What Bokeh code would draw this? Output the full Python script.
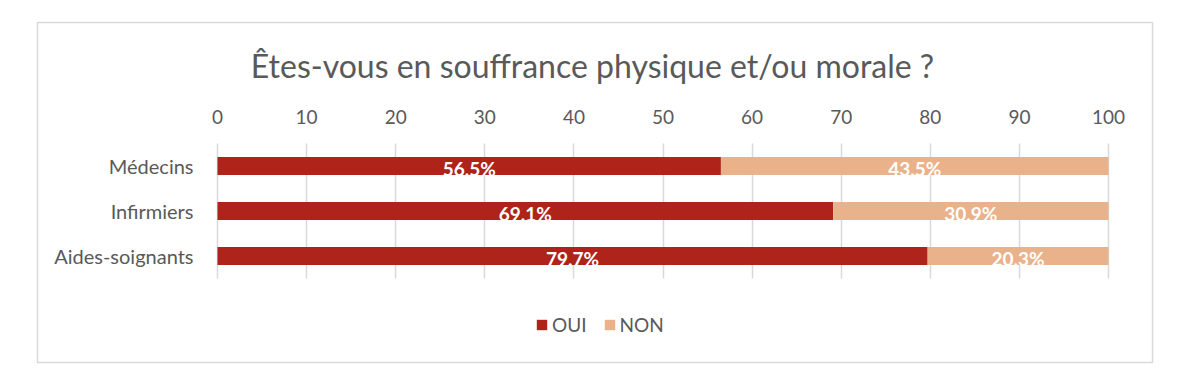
from bokeh.plotting import figure
from bokeh.models import (ColumnDataSource, Range1d, Legend, LegendItem, Grid,
                          FixedTicker, LabelSet, Label)
from bokeh.core.properties import value
from bokeh.embed import file_html
from bokeh.resources import INLINE

categories = ["Médecins", "Infirmiers", "Aides-soignants"]
oui = [56.5, 69.1, 79.7]
non = [43.5, 30.9, 20.3]
series_names = ["OUI", "NON"]
colors = ["#ae231a", "#e9b28a"]
x_ticks = [0, 10, 20, 30, 40, 50, 60, 70, 80, 90, 100]
title_text = "Êtes-vous en souffrance physique et/ou morale ?"

FONT = "Lato"
GREY = "#595959"

def fmt(v):
    return f"{v:.1f}".replace(".", ",") + "%"

n = len(categories)
y_pos = [n - 0.5 - i for i in range(n)]  # first category on top

src = ColumnDataSource(dict(
    y=y_pos,
    OUI=oui,
    NON=non,
    oui_mid=[v / 2 for v in oui],
    non_mid=[o + q / 2 for o, q in zip(oui, non)],
    oui_lbl=[fmt(v) for v in oui],
    non_lbl=[fmt(v) for v in non],
))

# layout in pixels: the outer box is the plot frame; inner plot area 0..100 spans 180 px -> 1071 px in frame
FRAME_L, FRAME_T, FRAME_W, FRAME_H = 37, 22, 1115, 340
PX_PER_X = 891 / 100.0
X0_PX = 180            # x = 0 from frame left
PX_PER_Y = 45.0
Y0_PX = 84             # y = 0 from frame bottom

x_range = Range1d(-X0_PX / PX_PER_X, (FRAME_W - X0_PX) / PX_PER_X)
y_range = Range1d(-Y0_PX / PX_PER_Y, (FRAME_H - Y0_PX) / PX_PER_Y)

p = figure(frame_width=FRAME_W, frame_height=FRAME_H, output_backend="svg", toolbar_location=None,
           x_range=x_range, y_range=y_range, x_axis_location="above",
           min_border_left=FRAME_L, min_border_top=FRAME_T, min_border_right=30, min_border_bottom=15)

p.outline_line_color = "#d9d9d9"
p.outline_line_width = 1.5
p.background_fill_color = "white"
p.border_fill_color = "white"

renderers = p.hbar_stack(["OUI", "NON"], y="y", height=0.4, color=colors,
                         line_color=None, source=src)

for xcol, lcol in (("oui_mid", "oui_lbl"), ("non_mid", "non_lbl")):
    p.add_layout(LabelSet(x=xcol, y="y", text=lcol, source=src,
                          text_align="center", text_baseline="middle",
                          y_offset=-2, text_color="white",
                          text_font=value(FONT), text_font_style="bold",
                          text_font_size="19px"))

xa = p.xaxis[0]
xa.fixed_location = float(n)
xa.ticker = FixedTicker(ticks=x_ticks)
xa.axis_line_color = None
xa.major_tick_line_color = None
xa.minor_tick_line_color = None
xa.major_label_text_font = FONT
xa.major_label_text_font_size = "19px"
xa.major_label_text_color = GREY
xa.major_label_standoff = 14

ya = p.yaxis[0]
ya.fixed_location = 0.0
ya.ticker = FixedTicker(ticks=y_pos)
ya.major_label_overrides = {y: c for y, c in zip(y_pos, categories)}
ya.axis_line_color = None
ya.major_tick_line_color = None
ya.minor_tick_line_color = None
ya.major_label_text_font = FONT
ya.major_label_text_font_size = "20px"
ya.major_label_text_color = GREY
ya.major_label_standoff = 18

p.xgrid.ticker = FixedTicker(ticks=x_ticks)
p.xgrid.grid_line_color = "#d9d9d9"
p.xgrid.grid_line_width = 1.5
p.ygrid.grid_line_color = None
if "cross_bounds" in Grid.properties():
    p.xgrid.cross_bounds = (0, float(n))
else:
    p.xgrid.grid_line_color = None
    p.segment(x0=x_ticks, y0=[0] * len(x_ticks), x1=x_ticks, y1=[float(n)] * len(x_ticks),
              line_color="#d9d9d9", line_width=1.5, level="underlay")

p.add_layout(Label(x=555, y=297, x_units="screen", y_units="screen", text=title_text,
                   text_align="center", text_baseline="middle", text_font=FONT,
                   text_font_size="32px", text_color=GREY))

legend = Legend(items=[LegendItem(label=s, renderers=[r]) for s, r in zip(series_names, renderers)],
                orientation="horizontal", location=(498, 26),
                label_text_font=FONT, label_text_font_size="19px", label_text_color=GREY,
                glyph_width=13, glyph_height=13, label_standoff=4, spacing=16, padding=0,
                border_line_color=None, background_fill_alpha=0)
p.add_layout(legend)

open("out.html", "w").write(file_html(p, INLINE))
